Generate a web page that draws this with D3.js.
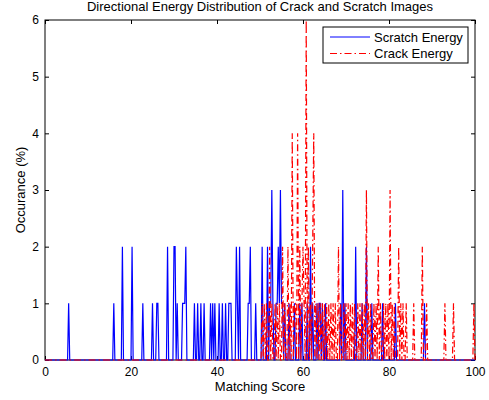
<!DOCTYPE html>
<html>
  <head>
    <meta charset="utf-8">
    <title>Directional Energy Distribution</title>
    <script src="https://d3js.org/d3.v7.min.js"></script>
    <style>
      body { margin: 0; background: #fff; }
      text { font-family: "Liberation Sans", Arial, sans-serif; fill: #000; }
    </style>
  </head>
  <body>
    <div id="vis"></div>
    <script>
        const width = 489;
        const height = 400;

        // histogram bin width of the matching score (read from spike spacing)
        const binStep = 0.25;

        // scratch energy: non-zero bins only (score, occurance %)
        const scratchScore = [5.5, 16, 18, 20.25, 22.75, 25, 26, 26.25, 28.5, 30, 30.25, 30.75,
          32, 32.25, 32.5, 32.75, 34.75, 35.5, 36.25, 37, 38.5, 39, 39.5, 40.5, 41.25, 42,
          42.75, 43, 43.25, 44.5, 44.75, 45.25, 47.25, 47.5, 47.75, 49, 50.5, 51.75,
          52.25, 52.5, 52.75, 53, 53.75, 54, 54.25, 54.5, 54.75, 55, 55.25, 55.75, 56.75,
          58, 59.25, 59.75, 61, 61.75, 62.25, 63.25, 63.75, 64, 64.5, 65.25,
          68.75, 69.25, 69.75, 72.25, 73.75, 74.75, 76, 78.5, 81.5, 88.25];
        const scratchCount = [1, 1, 2, 2, 1, 1, 1, 1, 2, 2, 2, 1,
          1, 1, 1, 2, 1, 1, 1, 1, 1, 1, 1, 1, 1, 1,
          1, 1, 1, 2, 1, 2, 1, 1, 2, 1, 2, 2,
          1, 1, 3, 1, 1, 1, 2, 1, 3, 1, 1, 1, 1,
          1, 1, 1, 1, 2, 1, 1, 1, 1, 1, 1,
          1, 3, 1, 2, 1, 2, 1, 1, 1, 1];

        // crack energy: non-zero bins only
        const crackScore = [50.5, 51, 51.5, 52.25, 52.75, 53.5, 54, 54.5, 55.25, 55.75, 56.5, 57,
          57.5, 58, 58.25, 58.75, 59.25, 59.75, 60, 60.25, 60.75, 61.25, 61.75, 62.25, 62.5,
          63, 63.5, 64, 64.5, 65, 65.5, 66, 66.5, 67, 67.5, 68.25, 68.75, 69.5, 70, 70.5,
          71, 71.5, 72, 72.75, 73.25, 73.75, 74.25, 74.75, 75.25, 75.75, 76.5, 77, 77.5,
          78, 78.75, 79.25, 79.75, 80.25, 80.75, 81.25, 82.25, 82.75, 83.25, 84, 85.75,
          87.75, 88.75, 93, 95, 99.75];
        const crackCount = [1, 1, 1, 2, 1, 1, 1, 1, 2, 1, 2, 1,
          4, 1, 1, 4, 2, 1, 2, 1, 6, 2, 1, 2, 4,
          1, 1, 1, 1, 1, 1, 1, 1, 1, 1, 2, 1, 1, 1, 1,
          1, 1, 1, 1, 1, 1, 1, 3, 1, 1, 1, 1, 2,
          1, 1, 1, 1, 3, 1, 1, 2, 1, 1, 1, 1,
          2, 1, 1, 1, 1];

        const xTicks = [0, 20, 40, 60, 80, 100];
        const yTicks = [0, 1, 2, 3, 4, 5, 6];

        // expand the sparse bins onto the full score grid, empty bins are 0
        function toSeries(scores, counts) {
          const lookup = new Map(scores.map((s, i) => [Math.round(s / binStep), counts[i]]));
          const n = Math.round(100 / binStep);
          return d3.range(n + 1).map(i => ({ x: i * binStep, y: lookup.get(i) || 0 }));
        }

        const scratch = toSeries(scratchScore, scratchCount);
        const crack = toSeries(crackScore, crackCount);

        const margin = { left: 45, right: 14, top: 20, bottom: 40 };

        const svg = d3.select("#vis")
                      .append("svg")
                      .attr("width", width)
                      .attr("height", height);

        const x = d3.scaleLinear().domain([0, 100]).range([margin.left, width - margin.right]);
        const y = d3.scaleLinear().domain([0, 6]).range([height - margin.bottom, margin.top]);
        const fmt = d3.format("d");

        // axes box
        const x0 = x(0), x1 = x(100), y0 = y(0), y1 = y(6);
        svg.append("rect")
           .attr("x", x0).attr("y", y1)
           .attr("width", x1 - x0).attr("height", y0 - y1)
           .attr("fill", "none").attr("stroke", "#000").attr("stroke-width", 1);

        // ticks pointing inward on all four sides
        svg.append("g")
           .attr("transform", `translate(0,${y0})`)
           .call(d3.axisBottom(x).tickValues(xTicks).tickFormat(fmt).tickSizeInner(-4).tickSizeOuter(0).tickPadding(7))
           .call(g => g.select(".domain").remove())
           .call(g => g.selectAll("text").attr("font-size", 12).attr("font-family", null));

        svg.append("g")
           .attr("transform", `translate(0,${y1})`)
           .call(d3.axisTop(x).tickValues(xTicks).tickSizeInner(-4).tickSizeOuter(0).tickFormat(""))
           .call(g => g.select(".domain").remove());

        svg.append("g")
           .attr("transform", `translate(${x0},0)`)
           .call(d3.axisLeft(y).tickValues(yTicks).tickFormat(fmt).tickSizeInner(-4).tickSizeOuter(0).tickPadding(6))
           .call(g => g.select(".domain").remove())
           .call(g => g.selectAll("text").attr("font-size", 12).attr("font-family", null));

        svg.append("g")
           .attr("transform", `translate(${x1},0)`)
           .call(d3.axisRight(y).tickValues(yTicks).tickSizeInner(-4).tickSizeOuter(0).tickFormat(""))
           .call(g => g.select(".domain").remove());

        // lines
        const line = d3.line().x(d => x(d.x)).y(d => y(d.y));

        svg.append("path")
           .datum(scratch)
           .attr("d", line)
           .attr("fill", "none")
           .attr("stroke", "#0000ff")
           .attr("stroke-width", 1.2);

        svg.append("path")
           .datum(crack)
           .attr("d", line)
           .attr("fill", "none")
           .attr("stroke", "#ff0000")
           .attr("stroke-width", 1.2)
           .attr("stroke-dasharray", "7,3,1.5,3");

        // title and axis labels
        svg.append("text")
           .attr("x", (x0 + x1) / 2).attr("y", 11)
           .attr("text-anchor", "middle").attr("font-size", 13)
           .text("Directional Energy Distribution of Crack and Scratch Images");

        svg.append("text")
           .attr("x", (x0 + x1) / 2).attr("y", 391)
           .attr("text-anchor", "middle").attr("font-size", 13)
           .text("Matching Score");

        svg.append("text")
           .attr("transform", `translate(25,${(y0 + y1) / 2}) rotate(-90)`)
           .attr("text-anchor", "middle").attr("font-size", 13)
           .text("Occurance (%)");

        // legend
        const legend = svg.append("g").attr("transform", "translate(323,27)");
        legend.append("rect")
              .attr("width", 145).attr("height", 36)
              .attr("fill", "#fff").attr("stroke", "#000");
        const entries = [
          { name: "Scratch Energy", color: "#0000ff", dash: null },
          { name: "Crack Energy", color: "#ff0000", dash: "7,3,1.5,3" }
        ];
        entries.forEach((e, i) => {
          const cy = 10 + i * 16.5;
          legend.append("line")
                .attr("x1", 7).attr("x2", 47).attr("y1", cy).attr("y2", cy)
                .attr("stroke", e.color).attr("stroke-width", 1)
                .attr("stroke-dasharray", e.dash);
          legend.append("text")
                .attr("x", 51).attr("y", cy + 4.5)
                .attr("font-size", 13)
                .text(e.name);
        });
    </script>
  </body>
</html>
